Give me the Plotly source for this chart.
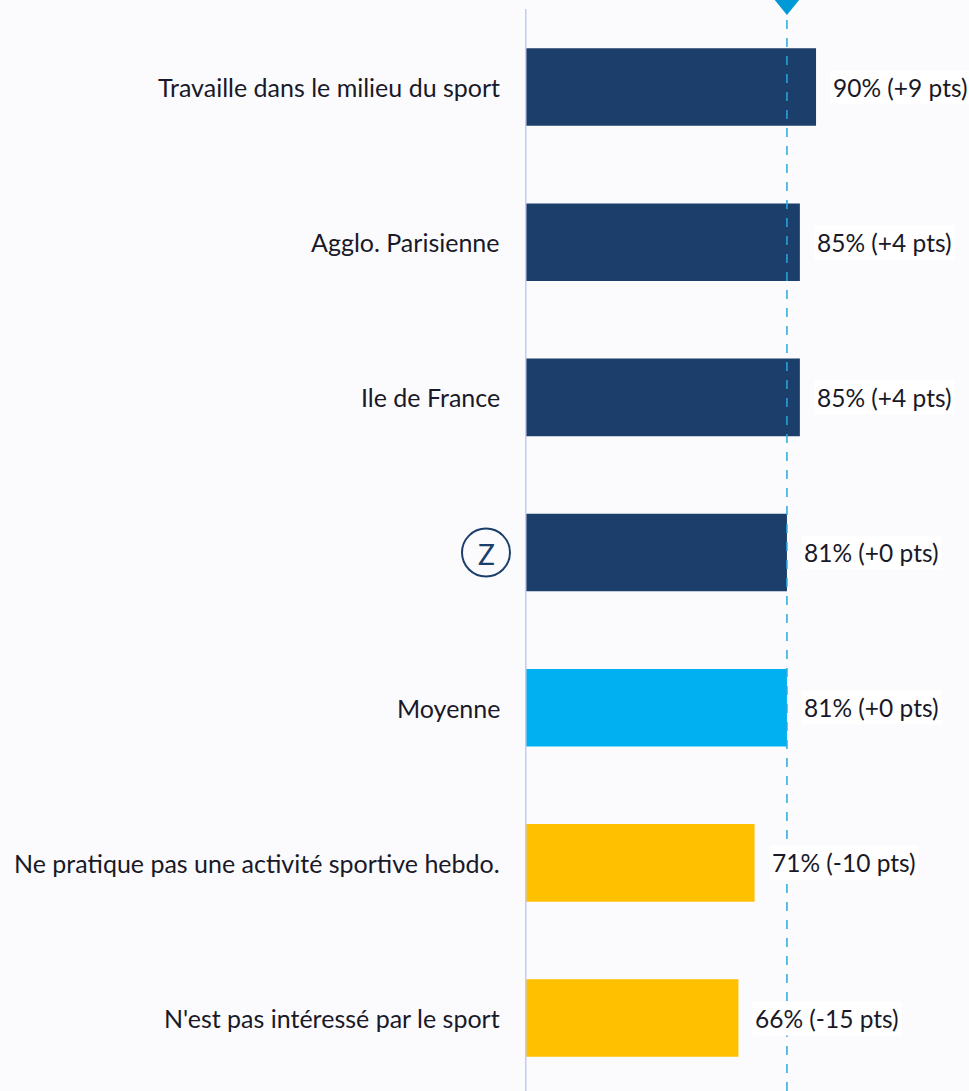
import plotly.graph_objects as go

categories = ["Travaille dans le milieu du sport", "Agglo. Parisienne", "Ile de France", "Z",
              "Moyenne", "Ne pratique pas une activité sportive hebdo.", "N'est pas intéressé par le sport"]
values = [90, 85, 85, 81, 81, 71, 66]
diffs = ["+9", "+4", "+4", "+0", "+0", "-10", "-15"]
bar_colors = ["#1B3F6A", "#1B3F6A", "#1B3F6A", "#1B3F6A", "#00B0F0", "#FFC000", "#FFC000"]
average = 81

BG = "#FBFBFE"
TXT = "#191928"
FONT = "Lato"

fig = go.Figure()
fig.add_trace(go.Bar(
    y=categories, x=values, orientation="h",
    marker=dict(color=bar_colors, line=dict(width=0)),
    width=0.5, hoverinfo="skip",
))

annotations = []
for c, v, d in zip(categories, values, diffs):
    annotations.append(dict(x=v, y=c, xref="x", yref="y", text=f"{v}% ({d} pts)",
                            showarrow=False, xanchor="left", xshift=14,
                            font=dict(size=24.5, color=TXT, family=FONT),
                            bgcolor="white", borderpad=2))
    if c != "Z":
        annotations.append(dict(x=0, y=c, xref="paper", yref="y", text=c,
                                showarrow=False, xanchor="right", xshift=-23,
                                font=dict(size=25, color=TXT, family=FONT)))
annotations.append(dict(x=0, y="Z", xref="paper", yref="y", text="Z",
                        showarrow=False, xanchor="center", xshift=-39, yshift=-1,
                        font=dict(size=28, color="#1B3F6A", family=FONT)))

shapes = [
    dict(type="line", xref="x", yref="paper", x0=0, x1=0, y0=0, y1=1,
         line=dict(color="#C3CCF6", width=3), layer="above"),
    dict(type="line", xref="x", yref="paper", x0=average, x1=average, y0=0, y1=1,
         line=dict(color="#29A8E0", width=1.5, dash="dash"), layer="above"),
    dict(type="path", xref="x", yref="paper", xsizemode="pixel", ysizemode="pixel",
         xanchor=average, yanchor=1, path="M -13 10 L 13 10 L 0 -6 Z",
         fillcolor="#0099D8", line=dict(width=0), layer="above"),
    dict(type="circle", xref="paper", yref="y", xsizemode="pixel", ysizemode="pixel",
         xanchor=0, yanchor=3, x0=-63, x1=-15, y0=-24, y1=24,
         line=dict(color="#1B3F6A", width=2), fillcolor="rgba(0,0,0,0)", layer="above"),
]

fig.update_layout(
    width=969, height=1091,
    margin=dict(l=525, r=0, t=9, b=0),
    paper_bgcolor=BG, plot_bgcolor=BG,
    showlegend=False,
    xaxis=dict(range=[0, 137.3], visible=False, fixedrange=True),
    yaxis=dict(categoryorder="array", categoryarray=categories[::-1], range=[-0.470, 6.503],
               showticklabels=False, showgrid=False, zeroline=False, fixedrange=True),
    annotations=annotations,
    shapes=shapes,
)

fig.write_html("out.html", config={"displayModeBar": False},
               post_script="document.body.style.margin='0';document.body.style.overflow='hidden';")
